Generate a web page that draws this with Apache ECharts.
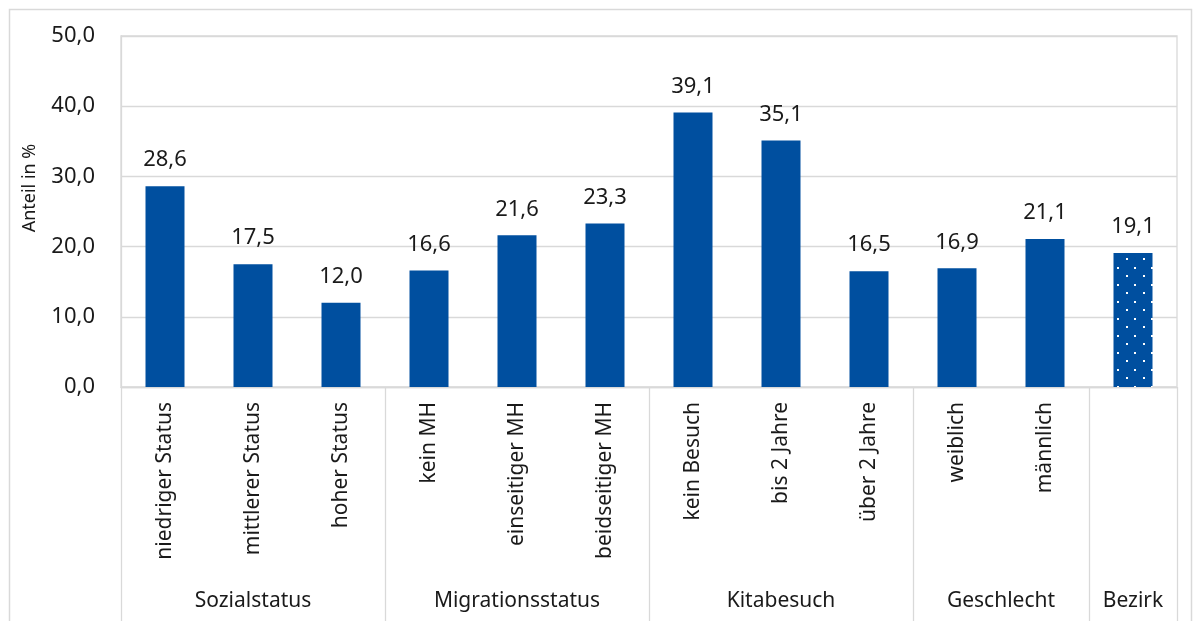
<!DOCTYPE html>
<html>
<head>
<meta charset="utf-8">
<script src="https://cdn.jsdelivr.net/npm/echarts@6/dist/echarts.min.js"></script>
<style>
  html, body { margin: 0; padding: 0; background: #fff; }
  #chart { width: 1202px; height: 621px; }
</style>
</head>
<body>
<div id="chart"></div>
<script>
// Categories, values and grouping
const categories = [
  'niedriger Status', 'mittlerer Status', 'hoher Status',
  'kein MH', 'einseitiger MH', 'beidseitiger MH',
  'kein Besuch', 'bis 2 Jahre', 'über 2 Jahre',
  'weiblich', 'männlich', ''
];
const values = [28.6, 17.5, 12.0, 16.6, 21.6, 23.3, 39.1, 35.1, 16.5, 16.9, 21.1, 19.1];
const groupNames = ['Sozialstatus', 'Migrationsstatus', 'Kitabesuch', 'Geschlecht', 'Bezirk'];
const groupSizes = [3, 3, 3, 2, 1];
const yTicks = [0, 10, 20, 30, 40, 50];

const BAR_COLOR = '#004f9f';
const GRID_COLOR = '#d9d9d9';
const TEXT_COLOR = '#1a1a1a';
const FONT = '"Noto Sans", "Open Sans", sans-serif';

function fmt(v) { return v.toFixed(1).replace('.', ','); }

// dotted fill for the district total bar
function dotPattern() {
  const c = document.createElement('canvas');
  c.width = 17; c.height = 17;
  const g = c.getContext('2d');
  g.fillStyle = BAR_COLOR;
  g.fillRect(0, 0, 17, 17);
  g.fillStyle = '#ffffff';
  g.fillRect(4, 3, 2, 2);
  g.fillRect(12, 12, 2, 2);
  return c;
}

const chart = echarts.init(document.getElementById('chart'), null, { renderer: 'canvas' });

const barData = values.map((v, i) => {
  if (i === values.length - 1) {
    return { value: v, itemStyle: { color: { image: dotPattern(), repeat: 'repeat' } } };
  }
  return v;
});

chart.setOption({
  animation: false,
  grid: {
    left: 121, right: 25, top: 36, bottom: 234,
    show: true, borderColor: GRID_COLOR, borderWidth: 1.3
  },
  xAxis: {
    type: 'category',
    data: categories,
    axisLine: { show: true, lineStyle: { color: GRID_COLOR, width: 1.3 } },
    axisTick: { show: false },
    axisLabel: {
      rotate: 90, interval: 0, margin: 15,
      color: TEXT_COLOR, fontSize: 21, fontFamily: FONT
    }
  },
  yAxis: {
    type: 'value',
    min: yTicks[0], max: yTicks[yTicks.length - 1], interval: 10,
    axisLine: { show: true, lineStyle: { color: GRID_COLOR, width: 1.3 } },
    axisTick: { show: false },
    splitLine: { lineStyle: { color: GRID_COLOR, width: 1.3 } },
    axisLabel: {
      formatter: fmt, margin: 26,
      color: TEXT_COLOR, fontSize: 22, fontFamily: FONT
    }
  },
  series: [{
    type: 'bar',
    data: barData,
    barWidth: 39,
    itemStyle: { color: BAR_COLOR },
    label: {
      show: true, position: 'top', distance: 15,
      formatter: p => fmt(p.value),
      color: TEXT_COLOR, fontSize: 22, fontFamily: FONT
    }
  }]
});

// group separators and group titles under the category labels
const c0 = chart.convertToPixel({ xAxisIndex: 0 }, 0);
const c1 = chart.convertToPixel({ xAxisIndex: 0 }, 1);
const band = c1 - c0;
const axisY = chart.convertToPixel({ yAxisIndex: 0 }, 0);
const graphics = [];
let start = 0;
const boundaries = [0];
groupSizes.forEach((n, gi) => {
  const left = c0 - band / 2 + start * band;
  const right = left + n * band;
  boundaries.push(start + n);
  graphics.push({
    type: 'text',
    x: (left + right) / 2, y: 601,
    style: {
      text: groupNames[gi], fill: TEXT_COLOR, fontSize: 21, fontFamily: FONT,
      align: 'center', verticalAlign: 'middle'
    }
  });
  start += n;
});
boundaries.forEach(b => {
  const x = Math.round(c0 - band / 2 + b * band) + 0.5;
  graphics.push({
    type: 'line',
    shape: { x1: x, y1: axisY, x2: x, y2: 621 },
    style: { stroke: GRID_COLOR, lineWidth: 1.3 }
  });
});
// axis title
graphics.push({
  type: 'text',
  x: 30, y: 188, rotation: Math.PI / 2,
  style: {
    text: 'Anteil in %', fill: TEXT_COLOR, fontSize: 18, fontFamily: FONT,
    align: 'center', verticalAlign: 'middle'
  }
});
// outer frame
graphics.push({
  type: 'rect',
  shape: { x: 9.5, y: 9.5, width: 1182, height: 640 },
  style: { fill: null, stroke: GRID_COLOR, lineWidth: 1.5 }
});
chart.setOption({ graphic: graphics });
</script>
</body>
</html>
